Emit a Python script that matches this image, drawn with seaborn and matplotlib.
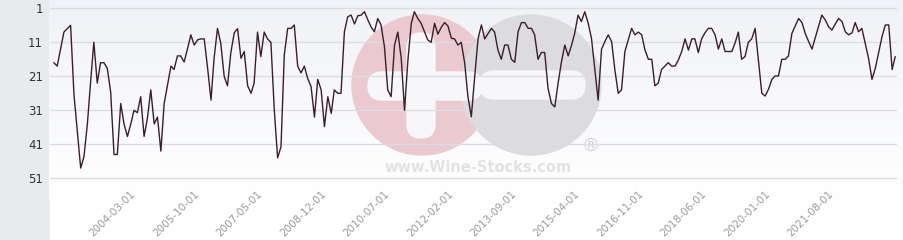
import numpy as np
import pandas as pd
import matplotlib
matplotlib.use("Agg")
import matplotlib.pyplot as plt
import matplotlib.dates as mdates
from matplotlib.patches import Rectangle, Circle, FancyBboxPatch
import seaborn as sns

# ---- data (monthly rank, 1 = best) ----
start_date = "2002-03-01"
ranks = [
    17, 18, 13, 8, 7, 6, 26.5, 37, 48, 44.6, 35, 22, 11, 23, 17, 17, 18.6, 25.5, 44, 44,
    29, 35, 38.7, 35, 31, 31.7, 27, 38.7,
    33.4, 25, 35, 33, 43, 29, 23.5, 18, 19, 15, 15, 16.8, 13, 8.8, 11.8, 10.3, 10, 10, 18.6, 28,
    15.7, 6.9, 11.3, 21, 23.8, 14, 8.2, 7, 15.7, 13.7,
    23.8, 26, 23, 8, 15.2, 8, 10, 11, 31, 45, 41.7, 14.7, 6.9, 6.9, 5.9, 18, 20, 18, 21.6, 24,
    33, 21.9, 25, 35.8, 27, 31.9, 25, 26, 26,
    7.9, 3.5, 3, 5.6, 3.2, 3, 2, 4.4, 6.6, 7.9, 4, 5.9, 12.3, 25, 27, 11.8, 8, 15.7, 31, 16.2,
    5.4, 2, 4, 5.4, 7.9, 10.3, 11, 5.4, 8.6, 6.6, 5.2, 6.2, 9.8, 10, 11.8, 11, 17, 27, 32.9, 21, 10,
    5.9, 10, 8.4, 6.9, 8, 13.3, 16, 11.8, 11.8, 16, 16.9, 7.9, 5.2, 5.2, 6.9, 6.9, 8.8, 16, 14, 14,
    24.5, 29, 30, 23, 16.7, 11.8, 15, 11.8, 8.4, 3, 4.9, 2, 5.2, 9.8, 19, 28, 13, 10.8, 8.8, 10.8, 19, 26,
    25, 13.7, 10.3, 6.9, 8.8, 8, 8.8, 13.3, 16, 16, 23.8, 23, 19, 18, 17, 18, 18, 16.2, 13.7, 10,
    13.3, 10, 10, 14, 10, 8.2, 6.9, 6.9, 8.8, 13, 10, 13.7, 13.7, 13.7, 11.3, 8, 16, 15.2, 11, 10, 6.9,
    16.2, 26, 26.8, 24.8, 21.9, 20.9, 20.9, 16, 16, 15, 8.4, 6.2, 4, 5.2, 8.4, 10.8, 13, 9.8, 6.4, 3,
    4.4, 6.4, 7.4, 5.6, 4, 4.9, 7.9, 8.8, 8.2, 5.2, 7.9, 6.9, 11.3, 15.7, 21.9, 18.6, 14, 9.3, 5.9, 5.9,
    19, 15.2,
]
x_tick_labels = ["2004-03-01", "2005-10-01", "2007-05-01", "2008-12-01", "2010-07-01",
                 "2012-02-01", "2013-09-01", "2015-04-01", "2016-11-01", "2018-06-01",
                 "2020-01-01", "2021-08-01"]
y_ticks = [1, 11, 21, 31, 41, 51]

dates = pd.date_range(start_date, periods=len(ranks), freq="MS")
df = pd.DataFrame({"date": dates, "rank": ranks})

sns.set_style("white")
W, H = 904, 240
fig = plt.figure(figsize=(W / 100, H / 100), dpi=100)

# ---- background / watermark layer (pixel coordinates) ----
bg = fig.add_axes([0, 0, 1, 1])
bg.axis("off")
bg.add_patch(Rectangle((0, 0), 49, H, color="#e8ebee", zorder=0))
grad = np.linspace(0, 1, 200).reshape(-1, 1)
top = np.array([0.945, 0.95, 0.97])
bot = np.array([1.0, 1.0, 1.0])
img = top[None, None, :] * (1 - grad[..., None]) + bot[None, None, :] * grad[..., None]
bg.imshow(img, extent=(49, W, 200, 0), aspect="auto", zorder=0.5)
bg.set_xlim(0, W)
bg.set_ylim(H, 0)
# logo
bg.add_patch(Circle((422, 85), 70, color="#eac9d0", zorder=1))
bg.add_patch(Circle((531, 85), 70, color="#dcdcde", zorder=1.1))
bg.add_patch(FancyBboxPatch((421, 47), 0, 77, boxstyle="round,pad=14", color="#f7f7f9",
                            zorder=1.2))
bg.add_patch(FancyBboxPatch((382, 86), 86, 0, boxstyle="round,pad=14", color="#f7f7f9",
                            zorder=1.2))
bg.add_patch(FancyBboxPatch((494, 85), 77, 0, boxstyle="round,pad=14", color="#f7f7f9",
                            zorder=1.2))
bg.text(478, 167, "www.Wine-Stocks.com", ha="center", va="center", fontsize=10.5,
        fontweight="bold", color="#e2e2e5", zorder=1.3)
bg.text(591, 146, "®", ha="center", va="center", fontsize=13, color="#d6d6d8", zorder=1.3)

# ---- main chart ----
ax = fig.add_axes([50 / W, 1 - 186.6 / H, 847 / W, 186.6 / H])
ax.set_facecolor("none")
sns.lineplot(data=df, x="date", y="rank", ax=ax, color="#3b1e2b", linewidth=1.0)

px_per_day = 0.1097
x0 = mdates.date2num(pd.Timestamp("2004-03-01")) - (134 - 50) / px_per_day
x1 = x0 + 847 / px_per_day
ax.set_xlim(x0, x1)
ax.set_ylim(51 + 8.3 / 3.4, 1 - 8.3 / 3.4)

ax.set_yticks(y_ticks)
ax.set_yticklabels([str(v) for v in y_ticks], fontsize=8.5, color="#333333")
ax.set_xticks([mdates.date2num(pd.Timestamp(s)) for s in x_tick_labels])
ax.set_xticklabels(x_tick_labels, rotation=45, ha="right", va="center",
                   rotation_mode="anchor", fontsize=7.5, color="#9a9a9a")
ax.tick_params(axis="y", length=0, pad=5)
ax.tick_params(axis="x", length=0, pad=4)
ax.grid(axis="y", color="#dcdde2", linewidth=1)
ax.grid(axis="x", visible=False)
for s in ax.spines.values():
    s.set_visible(False)
ax.set_xlabel("")
ax.set_ylabel("")

fig.savefig("out.png", dpi=100)
